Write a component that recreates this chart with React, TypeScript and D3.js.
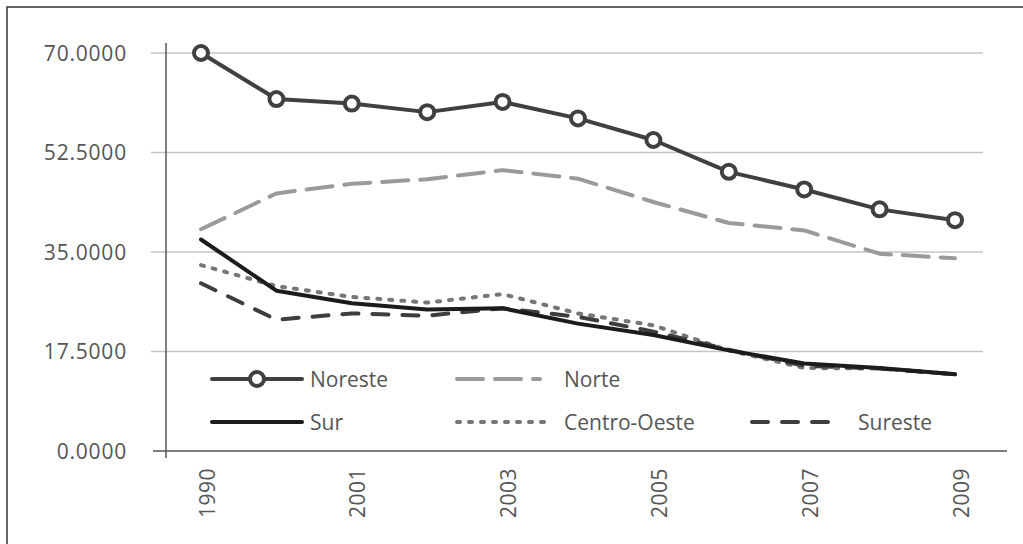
import * as d3 from 'd3';
import { useEffect, useRef } from 'react';

const years = ['1990', '2000', '2001', '2002', '2003', '2004', '2005', '2006', '2007', '2008', '2009'];
const shownYears = ['1990', '2001', '2003', '2005', '2007', '2009'];
const yTicks = [0, 17.5, 35, 52.5, 70];

const noreste = [70.0, 61.9, 61.1, 59.6, 61.4, 58.5, 54.7, 49.1, 46.0, 42.5, 40.6];
const norte = [39.0, 45.3, 47.0, 47.8, 49.4, 47.9, 43.8, 40.1, 38.8, 34.7, 33.9];
const sur = [37.2, 28.2, 26.0, 24.9, 25.1, 22.4, 20.4, 17.7, 15.4, 14.6, 13.5];
const centroOeste = [32.7, 29.0, 27.1, 26.1, 27.6, 24.2, 22.1, 17.7, 14.6, 14.5, 13.5];
const sureste = [29.5, 23.1, 24.2, 23.8, 25.1, 23.6, 21.0, 17.8, 15.0, 14.5, 13.5];

interface Serie {
    name: string;
    values: number[];
    color: string;
    dash: string;
    marker: boolean;
}

const series: Serie[] = [
    { name: 'Noreste', values: noreste, color: '#404040', dash: '', marker: true },
    { name: 'Norte', values: norte, color: '#9a9a9c', dash: '26,12', marker: false },
    { name: 'Sur', values: sur, color: '#1c1c1c', dash: '', marker: false },
    { name: 'Centro-Oeste', values: centroOeste, color: '#767676', dash: '3,9', marker: false },
    { name: 'Sureste', values: sureste, color: '#3e3e3e', dash: '16,14', marker: false },
];

// legend slots: [lineStart, lineEnd, textX, rowY]
const legendSlots = [
    [212, 302, 310, 379],
    [457, 540, 564, 379],
    [212, 302, 310, 422],
    [457, 547, 564, 422],
    [752, 835, 858, 422],
];

const FONT = '"Open Sans", sans-serif';

const App = () => {
    const ref = useRef<SVGSVGElement | null>(null);

    useEffect(() => {
        if (!ref.current) return;
        const svg = d3.select(ref.current);
        svg.selectAll('*').remove();

        const x = d3.scalePoint<string>().domain(years).range([201, 955]);
        const y = d3.scaleLinear().domain([0, 70]).range([451, 53]);

        // frame
        svg.append('rect')
            .attr('x', 7).attr('y', 7)
            .attr('width', 1030).attr('height', 560)
            .attr('fill', 'none')
            .attr('stroke', '#333')
            .attr('stroke-width', 1.5);

        // gridlines
        svg.append('g')
            .selectAll('line')
            .data(yTicks.filter(d => d > 0))
            .enter().append('line')
            .attr('x1', 151).attr('x2', 983)
            .attr('y1', d => y(d)).attr('y2', d => y(d))
            .attr('stroke', '#c4c4c4')
            .attr('stroke-width', 1.5);

        // axes lines
        svg.append('line')
            .attr('x1', 153).attr('x2', 1007)
            .attr('y1', y(0)).attr('y2', y(0))
            .attr('stroke', '#555').attr('stroke-width', 1.5);
        svg.append('line')
            .attr('x1', 166).attr('x2', 166)
            .attr('y1', 43).attr('y2', 458)
            .attr('stroke', '#555').attr('stroke-width', 1.5);

        // y tick labels
        svg.append('g')
            .selectAll('text')
            .data(yTicks)
            .enter().append('text')
            .attr('x', 127)
            .attr('y', d => y(d))
            .attr('dy', '0.36em')
            .attr('text-anchor', 'end')
            .attr('font-family', FONT)
            .attr('font-size', 21)
            .attr('letter-spacing', 0.8)
            .attr('fill', '#555')
            .text(d => d.toFixed(4));

        // x tick labels
        svg.append('g')
            .selectAll('text')
            .data(shownYears)
            .enter().append('text')
            .attr('transform', d => `translate(${x(d)! + 6},468) rotate(-90)`)
            .attr('dy', '0.36em')
            .attr('text-anchor', 'end')
            .attr('font-family', FONT)
            .attr('font-size', 21)
            .attr('letter-spacing', 0.5)
            .attr('fill', '#555')
            .text(d => d);

        const line = d3.line<number>()
            .x((_d, i) => x(years[i])!)
            .y(d => y(d));

        const drawOrder = [1, 3, 4, 2, 0];
        drawOrder.forEach(k => {
            const s = series[k];
            svg.append('path')
                .datum(s.values)
                .attr('d', line)
                .attr('fill', 'none')
                .attr('stroke', s.color)
                .attr('stroke-width', 4)
                .attr('stroke-linejoin', 'round')
                .attr('stroke-linecap', 'round')
                .attr('stroke-dasharray', s.dash || null);
            if (s.marker) {
                svg.append('g')
                    .selectAll('circle')
                    .data(s.values)
                    .enter().append('circle')
                    .attr('cx', (_d, i) => x(years[i])!)
                    .attr('cy', d => y(d))
                    .attr('r', 7)
                    .attr('fill', '#fff')
                    .attr('stroke', s.color)
                    .attr('stroke-width', 4);
            }
        });

        // legend
        const legend = svg.append('g');
        series.forEach((s, i) => {
            const [x1, x2, tx, ry] = legendSlots[i];
            legend.append('line')
                .attr('x1', x1).attr('x2', x2)
                .attr('y1', ry).attr('y2', ry)
                .attr('stroke', s.color)
                .attr('stroke-width', 4)
                .attr('stroke-linecap', 'round')
                .attr('stroke-dasharray', s.dash || null);
            if (s.marker) {
                legend.append('circle')
                    .attr('cx', (x1 + x2) / 2).attr('cy', ry)
                    .attr('r', 7)
                    .attr('fill', '#fff')
                    .attr('stroke', s.color)
                    .attr('stroke-width', 4);
            }
            legend.append('text')
                .attr('x', tx).attr('y', ry)
                .attr('dy', '0.36em')
                .attr('font-family', FONT)
                .attr('font-size', 21)
                .attr('fill', '#555')
                .text(s.name);
        });
    }, []);

    return (
        <svg
            ref={ref}
            width={1023}
            height={544}
            style={{ position: 'absolute', left: 0, top: 0, background: '#fff' }}
        />
    );
};

export default App;
